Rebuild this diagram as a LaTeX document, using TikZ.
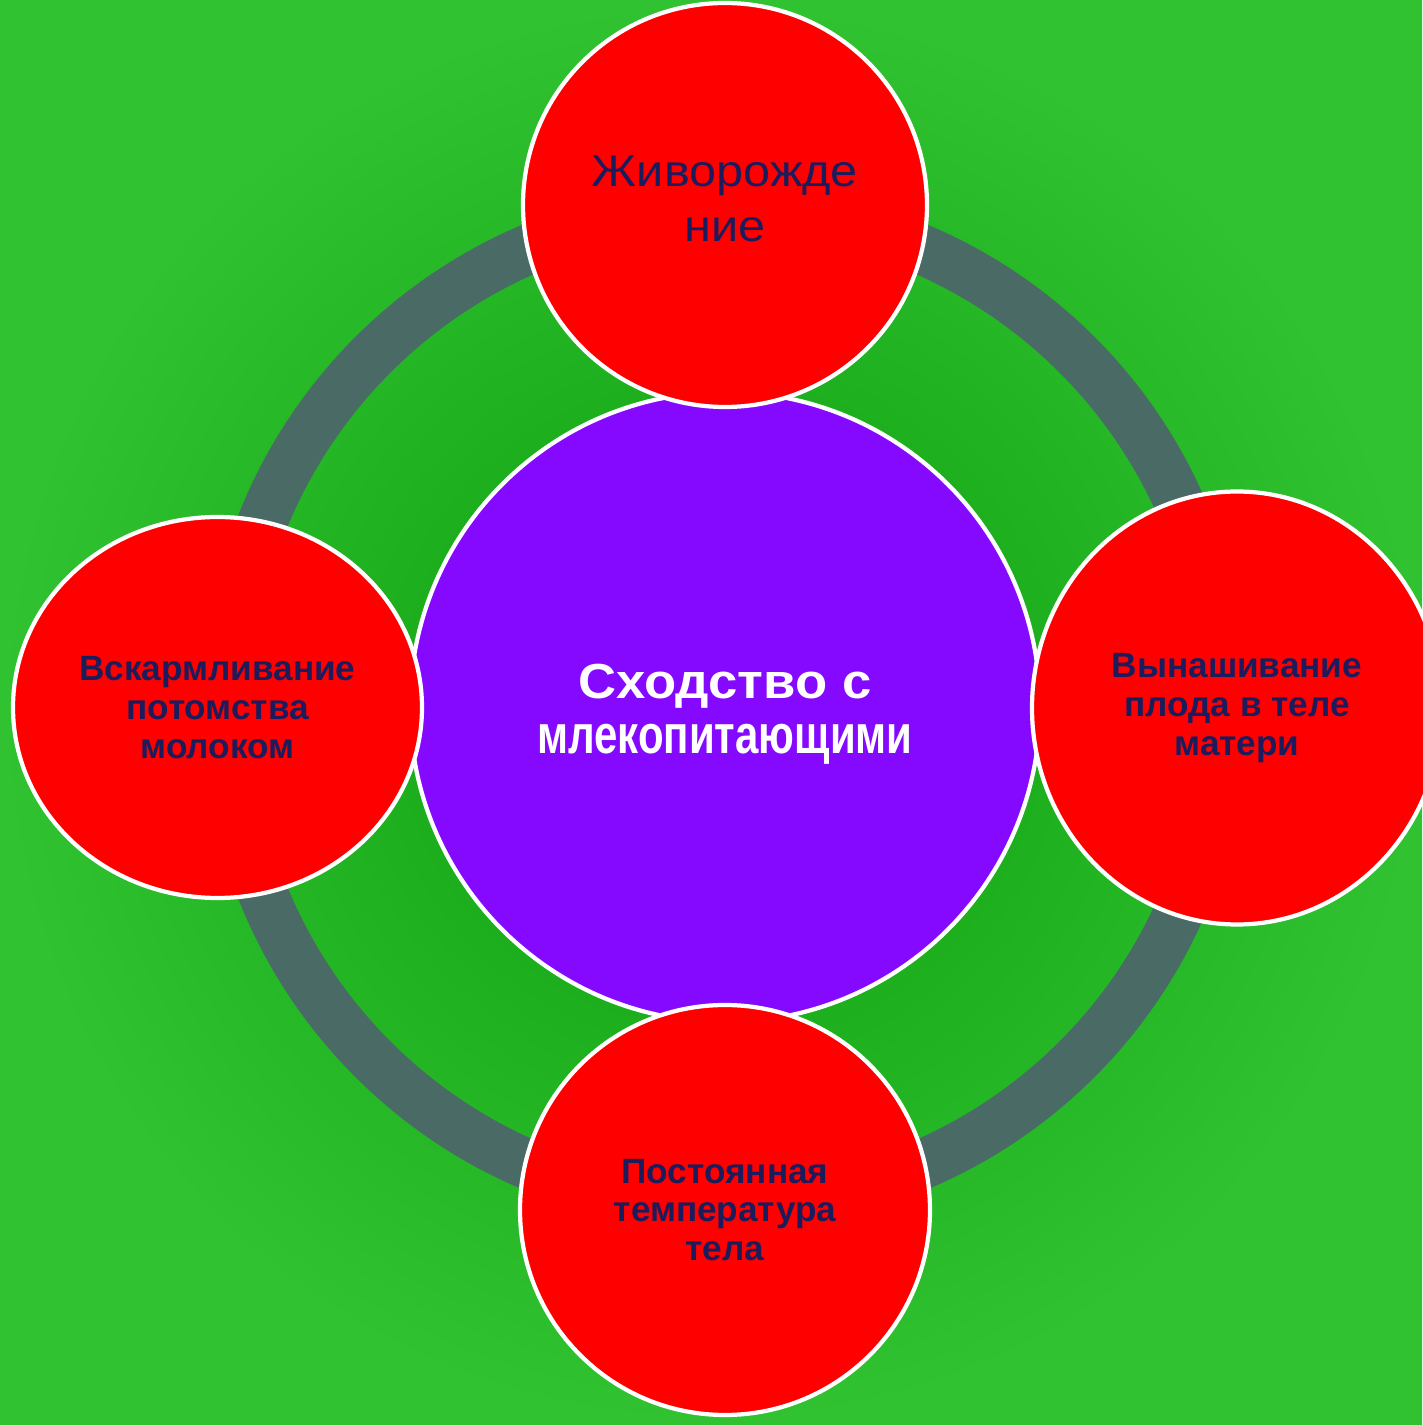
\documentclass[tikz,border=0pt]{standalone}
\usepackage{fontspec}
\setmainfont{Liberation Sans}
\newfontfamily\birthfont[FakeStretch=1.09]{Liberation Sans}
\newfontfamily\simwide[FakeStretch=1.07]{Liberation Sans}
\newfontfamily\simnarrow[FakeStretch=0.77]{Liberation Sans}
\definecolor{bgin}{HTML}{0E9F0E}
\definecolor{bgout}{HTML}{30C230}
\definecolor{ring}{HTML}{4A6A66}
\definecolor{petal}{HTML}{FF0000}
\definecolor{core}{HTML}{8509FF}
\definecolor{ink}{HTML}{1C1C5C}
\usetikzlibrary{positioning, shapes.geometric}

\begin{document}
\begin{tikzpicture}[
    petalnode/.style={ellipse, draw=white, line width=1.2pt, fill=petal, minimum width=4.08cm, minimum height=4.08cm, inner sep=0pt, align=center, text=ink, font=\fontsize{10}{11}\selectfont\bfseries},
    corenode/.style={circle, draw=white, line width=1.2pt, fill=core, minimum size=6.3cm, inner sep=0pt, align=center, text=white, font=\fontsize{15.5}{15.65}\selectfont\bfseries}]
    % background
    \shade[inner color=bgin, outer color=bgout] (0,0) rectangle (14.22,14.25);
    \useasboundingbox (0,0) rectangle (14.22,14.25);
    \coordinate (mid) at (7.25,7.18);
    \draw[ring, line width=0.5cm] (mid) circle (4.98);

    \node[corenode, text height=1.03cm] (simil) at (mid) {{\fontsize{14}{15.65}\selectfont\simwide\bfseries Сходство с}\\ {\simnarrow\bfseries млекопитающими}};
    \node[petalnode, minimum width=4.04cm, minimum height=4.04cm, text depth=0.13cm, font=\fontsize{12.7}{15.6}\selectfont\birthfont] (birth) at (7.25,12.20) {Живорожде\\ ние};
    \node[petalnode, minimum width=4.10cm, minimum height=4.33cm] (carry) at (12.37,7.17) {Вынашивание\\ плода в теле\\ матери};
    \node[petalnode, minimum width=4.10cm, minimum height=4.10cm] (temp) at (7.25,2.15) {Постоянная\\ температура\\ тела};
    \node[petalnode, minimum width=4.09cm, minimum height=3.81cm] (milk) at (2.175,7.175) {Вскармливание\\ потомства\\ молоком};
\end{tikzpicture}
\end{document}
